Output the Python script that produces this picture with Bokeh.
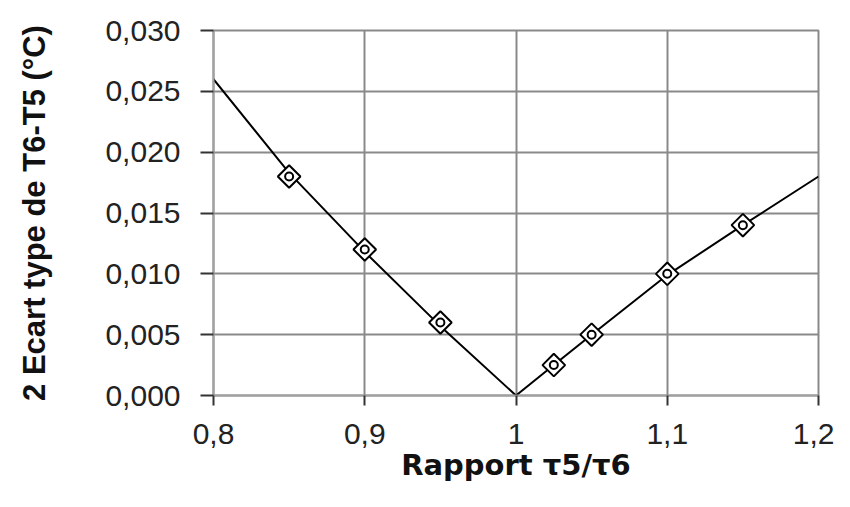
import math
from bokeh.plotting import figure
from bokeh.models import FixedTicker, CustomJSTickFormatter, Range1d
from bokeh.embed import file_html
from bokeh.resources import INLINE

# Curve
line_x = [0.8, 0.85, 0.9, 0.95, 1.0, 1.025, 1.05, 1.1, 1.15, 1.2]
line_y = [0.026, 0.0183, 0.0118, 0.0057, 0.0, 0.0025, 0.0050, 0.0099, 0.0140, 0.0180]

# Marked points
pts_x = [0.85, 0.9, 0.95, 1.025, 1.05, 1.1, 1.15]
pts_y = [0.018, 0.012, 0.006, 0.0025, 0.005, 0.010, 0.014]

x_ticks = [0.8, 0.9, 1.0, 1.1, 1.2]
y_ticks = [0.0, 0.005, 0.010, 0.015, 0.020, 0.025, 0.030]

FONT = "Liberation Sans"
GRID = "#8a8a8a"

p = figure(width=834, height=491, output_backend="svg", toolbar_location=None,
           x_range=Range1d(0.8, 1.2), y_range=Range1d(0.0, 0.030),
           min_border_left=213, min_border_right=16, min_border_top=30, min_border_bottom=96)

p.outline_line_color = GRID
p.outline_line_width = 2

p.xgrid.ticker = FixedTicker(ticks=x_ticks)
p.ygrid.ticker = FixedTicker(ticks=y_ticks)
for g in (p.xgrid, p.ygrid):
    g.grid_line_color = GRID
    g.grid_line_width = 2

p.xaxis.ticker = FixedTicker(ticks=x_ticks)
p.yaxis.ticker = FixedTicker(ticks=y_ticks)
p.xaxis.formatter = CustomJSTickFormatter(code="return Number(tick.toFixed(1)).toString().replace('.', ',');")
p.yaxis.formatter = CustomJSTickFormatter(code="return tick.toFixed(3).replace('.', ',');")

for ax in (p.xaxis, p.yaxis):
    ax.axis_line_color = "#a0a0a0"
    ax.axis_line_width = 2
    ax.major_tick_line_color = "#333333"
    ax.major_tick_line_width = 2
    ax.major_tick_in = 0
    ax.minor_tick_line_color = None
    ax.major_label_text_font = FONT
    ax.major_label_text_font_size = "30px"
    ax.major_label_text_color = "#222222"
    ax.axis_label_text_font_style = "bold"
    ax.axis_label_text_color = "#111111"

p.xaxis.major_tick_out = 10
p.yaxis.major_tick_out = 13
p.xaxis.major_label_standoff = 18
p.yaxis.major_label_standoff = 20

p.xaxis.axis_label = "Rapport τ5/τ6"
p.xaxis.axis_label_text_font = "DejaVu Sans"
p.xaxis.axis_label_text_font_size = "29px"
p.xaxis.axis_label_standoff = 1
p.yaxis.axis_label = "2 Ecart type de T6-T5 (°C)"
p.yaxis.axis_label_text_font = FONT
p.yaxis.axis_label_text_font_size = "31px"
p.yaxis.axis_label_standoff = 50

p.line(line_x, line_y, line_color="black", line_width=2)
p.scatter(pts_x, pts_y, marker="square", angle=math.pi / 4, size=16,
          fill_color="white", line_color="black", line_width=2)
p.scatter(pts_x, pts_y, marker="circle", size=8,
          fill_color=None, line_color="black", line_width=2)

open("out.html", "w").write(file_html(p, INLINE))
